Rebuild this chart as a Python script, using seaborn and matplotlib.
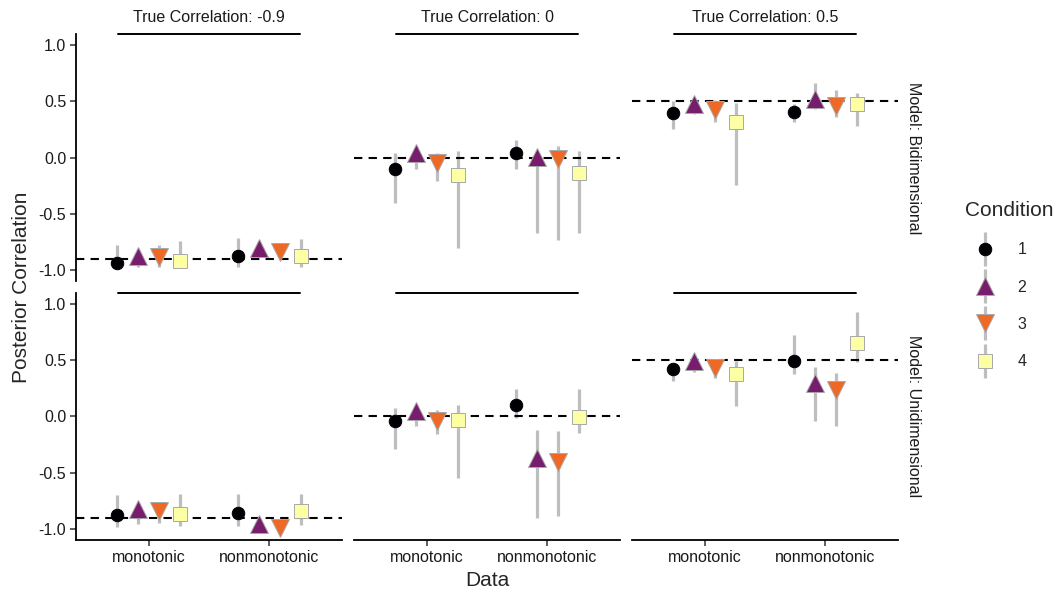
import numpy as np
import pandas as pd
import matplotlib
matplotlib.use('Agg')
import matplotlib.pyplot as plt
import seaborn as sns
from matplotlib.lines import Line2D
from matplotlib.legend_handler import HandlerTuple

sns.set_style('white')
plt.rcParams['font.family'] = ['Liberation Sans', 'DejaVu Sans']
plt.rcParams['axes.unicode_minus'] = False

data_types = ['monotonic', 'nonmonotonic']
conditions = ['1', '2', '3', '4']
true_corrs = [-0.9, 0, 0.5]
models = ['Bidimensional', 'Unidimensional']

# per true correlation: monotonic C1-C4, then nonmonotonic C1-C4
bidim_est = [
    [-0.94, -0.87, -0.885, -0.915, -0.876, -0.80, -0.835, -0.876],
    [-0.10, 0.04, -0.045, -0.156, 0.045, 0.005, -0.015, -0.14],
    [0.40, 0.48, 0.428, 0.32, 0.41, 0.52, 0.457, 0.48],
]
bidim_lo = [
    [-0.99, -0.97, -0.97, -0.97, -0.97, -0.84, -0.88, -0.97],
    [-0.40, -0.10, -0.21, -0.80, -0.10, -0.67, -0.73, -0.67],
    [0.257, 0.39, 0.316, -0.24, 0.32, 0.43, 0.36, 0.28],
]
bidim_hi = [
    [-0.78, -0.82, -0.78, -0.74, -0.71, -0.77, -0.79, -0.72],
    [0.045, 0.06, 0.04, 0.06, 0.16, 0.03, 0.10, 0.06],
    [0.50, 0.52, 0.51, 0.49, 0.48, 0.66, 0.60, 0.575],
]
unidim_est = [
    [-0.88, -0.82, -0.84, -0.87, -0.86, -0.96, -0.99, -0.845],
    [-0.04, 0.05, -0.04, -0.03, 0.10, -0.37, -0.41, -0.01],
    [0.42, 0.49, 0.43, 0.38, 0.49, 0.30, 0.23, 0.65],
]
unidim_lo = [
    [-0.98, -0.955, -0.95, -0.975, -0.975, -0.99, -1.02, -0.97],
    [-0.29, -0.09, -0.16, -0.55, -0.015, -0.90, -0.89, -0.15],
    [0.31, 0.39, 0.34, 0.09, 0.38, -0.04, -0.09, 0.48],
]
unidim_hi = [
    [-0.70, -0.78, -0.76, -0.69, -0.69, -0.93, -0.96, -0.695],
    [0.07, 0.08, 0.06, 0.10, 0.24, -0.12, -0.13, 0.24],
    [0.47, 0.52, 0.51, 0.49, 0.725, 0.44, 0.385, 0.93],
]

palette = ['#000004', '#781C6D', '#ED6925', '#FCFFA4']
markers = ['o', '^', 'v', 's']
marker_sizes = [9, 13, 13, 10]
edge_colors = ['#000004', '#A8A8A8', '#A8A8A8', '#A8A8A8']
err_color = '#BEBEBE'


def build_frame():
    rows = []
    tables = [(bidim_est, bidim_lo, bidim_hi), (unidim_est, unidim_lo, unidim_hi)]
    for model, (est, lo, hi) in zip(models, tables):
        for tc, e_row, l_row, h_row in zip(true_corrs, est, lo, hi):
            for i in range(8):
                rows.append({'Model': model, 'TrueCorr': tc,
                             'Data': data_types[i // 4],
                             'Condition': conditions[i % 4],
                             'est': e_row[i], 'lo': l_row[i], 'hi': h_row[i]})
    return pd.DataFrame(rows)


df = build_frame()
ci_df = df.melt(id_vars=['Model', 'TrueCorr', 'Data', 'Condition'],
                value_vars=['lo', 'hi'], value_name='bound')

fig, axes = plt.subplots(2, 3, figsize=(10.59, 5.96), dpi=100)
fig.subplots_adjust(left=76 / 1059, right=898 / 1059, top=1 - 34 / 596,
                    bottom=1 - 540 / 596, wspace=0.045, hspace=0.045)

for r, model in enumerate(models):
    for c, tc in enumerate(true_corrs):
        ax = axes[r, c]
        sub = df[(df.Model == model) & (df.TrueCorr == tc)]
        sub_ci = ci_df[(ci_df.Model == model) & (ci_df.TrueCorr == tc)]

        # intervals
        sns.pointplot(data=sub_ci, x='Data', y='bound', hue='Condition',
                      order=data_types, hue_order=conditions, dodge=0.525,
                      markers='', linestyle='none', errorbar=('pi', 100),
                      palette=palette, legend=False, ax=ax,
                      err_kws={'color': err_color, 'linewidth': 2.3,
                               'zorder': 1, 'solid_capstyle': 'butt'})

        ax.axhline(tc, color='black', ls=(0, (4, 3)), lw=1.5, zorder=2)

        # point estimates
        n_before = len(ax.lines)
        sns.pointplot(data=sub, x='Data', y='est', hue='Condition',
                      order=data_types, hue_order=conditions, dodge=0.525,
                      markers=markers, linestyle='none', errorbar=None,
                      palette=palette, legend=False, ax=ax,
                      markeredgewidth=0.7, zorder=3)
        for i, ln in enumerate(ax.lines[n_before:]):
            ln.set_markersize(marker_sizes[i])
            ln.set_markeredgecolor(edge_colors[i])

        # strip-like segment
        ax.plot([-0.25, 1.25], [1.1, 1.1], color='black', lw=1.4,
                clip_on=False, zorder=4)

        ax.set_xlim(-0.6, 1.6)
        ax.set_ylim(-1.1, 1.1)
        ax.set_yticks([-1.0, -0.5, 0.0, 0.5, 1.0])
        ax.set_yticklabels(['-1.0', '-0.5', '0.0', '0.5', '1.0'])
        ax.set_xlabel('')
        ax.set_ylabel('')

        for side in ['top', 'right', 'left', 'bottom']:
            ax.spines[side].set_visible(False)
        ax.tick_params(axis='both', length=4, width=1.1, color='#333333',
                       labelsize=11.5, labelcolor='#1a1a1a', pad=3)
        if c == 0:
            ax.spines['left'].set_visible(True)
            ax.spines['left'].set_linewidth(1.3)
            ax.spines['left'].set_color('black')
            ax.tick_params(axis='y', left=True)
        else:
            ax.tick_params(axis='y', left=False, labelleft=False)
        if r == 1:
            ax.spines['bottom'].set_visible(True)
            ax.spines['bottom'].set_linewidth(1.3)
            ax.spines['bottom'].set_color('black')
            ax.tick_params(axis='x', bottom=True)
        else:
            ax.tick_params(axis='x', bottom=False, labelbottom=False)

        if r == 0:
            label = f'True Correlation: {tc:g}'
            ax.text(0.5, 1 + 17 / 248, label, transform=ax.transAxes,
                    ha='center', va='center', fontsize=11.5, color='#1a1a1a')
        if c == 2:
            ax.text(1 + 15 / 266, 0.5, f'Model: {model}', transform=ax.transAxes,
                    ha='center', va='center', rotation=-90, fontsize=11.5,
                    color='#1a1a1a')

fig.text(22 / 1059, 1 - 287 / 596, 'Posterior Correlation', rotation=90,
         ha='center', va='center', fontsize=15)
fig.text(487 / 1059, 1 - 580 / 596, 'Data', ha='center', va='center', fontsize=15)

handles = []
for col, mk, ms, ec in zip(palette, markers, marker_sizes, edge_colors):
    bar = Line2D([], [], marker='|', color=err_color, markersize=24,
                 markeredgewidth=2.3, linestyle='none')
    pt = Line2D([], [], marker=mk, markerfacecolor=col, markeredgecolor=ec,
                markeredgewidth=0.7, markersize=ms, linestyle='none')
    handles.append((bar, pt))

leg = fig.legend(handles, conditions, title='Condition', loc='center left',
                 bbox_to_anchor=(951 / 1059, 1 - 285 / 596), frameon=False,
                 fontsize=11.5, title_fontsize=15, labelspacing=1.4,
                 handlelength=2.5, handletextpad=0.75, alignment='left',
                 handler_map={tuple: HandlerTuple(ndivide=1)})

fig.savefig('out.png', dpi=100)
